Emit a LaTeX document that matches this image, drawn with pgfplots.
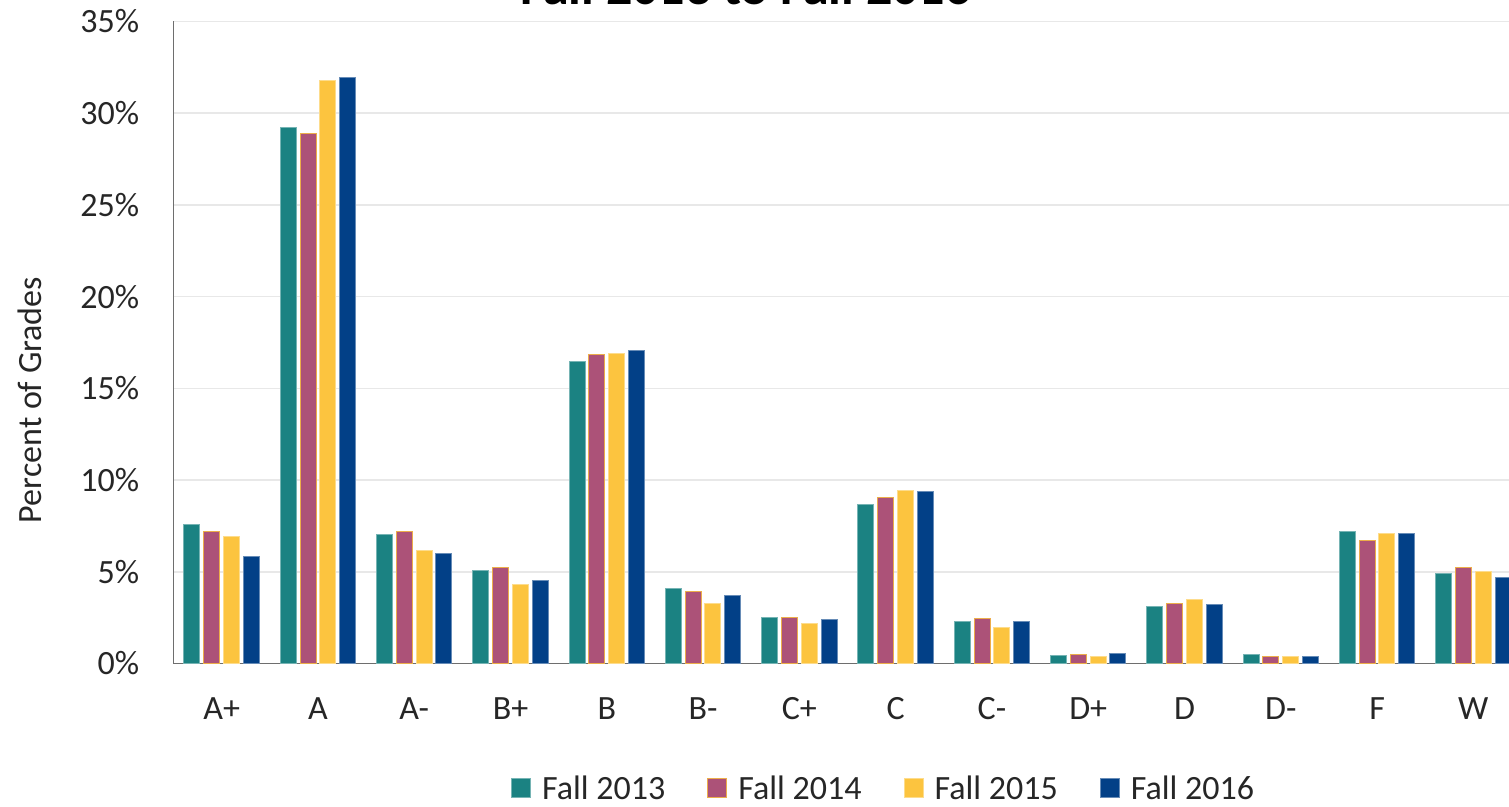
\documentclass[border=0pt]{standalone}
\usepackage{pgfplots}
\pgfplotsset{compat=1.18}
\usepackage{fontspec}
\setmainfont{Carlito}
\definecolor{cteal}{RGB}{27,130,130}
\definecolor{cpink}{RGB}{172,82,120}
\definecolor{cyellow}{RGB}{252,196,63}
\definecolor{cblue}{RGB}{2,64,135}
\definecolor{cgrid}{RGB}{232,232,232}
\definecolor{caxis}{RGB}{110,110,110}
\begin{document}
\begin{tikzpicture}
\useasboundingbox (-86.75pt,-71.75pt) rectangle (667.75pt,331.75pt);
\begin{axis}[
  at={(0pt,0pt)}, anchor=south west,
  scale only axis, width=674pt, height=321pt,
  xmin=-0.5, xmax=13.5, ymin=0, ymax=35,
  ybar=1.9pt, bar width=8pt,
  axis x line*=bottom, axis y line*=left,
  axis line style={caxis, line width=0.8pt},
  major tick length=0pt,
  ymajorgrids, grid style={cgrid, line width=0.8pt},
  xtick={0,...,13},
  xticklabels={A+,A,A-,B+,B,B-,C+,C,C-,D+,D,D-,F,W},
  ytick={0,5,10,15,20,25,30,35},
  yticklabels={0\%,5\%,10\%,15\%,20\%,25\%,30\%,35\%},
  tick label style={font=\fontsize{17}{20}\selectfont, text=black!85},
  xticklabel style={anchor=base, inner sep=0pt, yshift=-28.25pt},
  yticklabel style={anchor=east, inner sep=0pt, xshift=-17pt},
  ylabel={Percent of Grades},
  ylabel style={at={(axis description cs:-0.0976,0.4104)}, anchor=base, rotate=0, font=\fontsize{17}{20}\selectfont, text=black!85},
  every axis title shift=0pt,
  title={Fall 2013 to Fall 2016},
  title style={at={(axis description cs:0.4247,1.0267)}, anchor=base, font=\fontsize{26}{30}\selectfont\bfseries},
  legend columns=4,
  legend style={at={(axis description cs:0.2502,-0.2175)}, anchor=south west, draw=none, fill=none, inner sep=0pt,
    font=\fontsize{17}{20}\selectfont, text=black!85,
    nodes={inner sep=0pt},
    /tikz/every odd column/.append style={column sep=5.5pt},
    /tikz/every even column/.append style={column sep=21pt}},
  legend image code/.code={\fill[#1] (0pt,-4pt) rectangle (9.5pt,5.5pt);},
  clip=true,
]
\addplot[fill=cteal, draw=cteal!60!white, line width=0.5pt] coordinates {
 (0,7.59) (1,29.2) (2,7.05) (3,5.08) (4,16.49) (5,4.08) (6,2.53) (7,8.68) (8,2.31) (9,0.45) (10,3.11) (11,0.51) (12,7.17) (13,4.93)};
\addplot[fill=cpink, draw=cyellow!80!cpink, line width=0.5pt] coordinates {
 (0,7.17) (1,28.9) (2,7.17) (3,5.24) (4,16.82) (5,3.95) (6,2.49) (7,9.03) (8,2.46) (9,0.51) (10,3.28) (11,0.38) (12,6.72) (13,5.26)};
\addplot[fill=cyellow, draw=cyellow!60!white, line width=0.5pt] coordinates {
 (0,6.94) (1,31.8) (2,6.17) (3,4.33) (4,16.88) (5,3.29) (6,2.17) (7,9.45) (8,1.98) (9,0.38) (10,3.48) (11,0.38) (12,7.10) (13,5.01)};
\addplot[fill=cblue, draw=cblue!60!white, line width=0.5pt] coordinates {
 (0,5.84) (1,31.95) (2,5.99) (3,4.53) (4,17.04) (5,3.71) (6,2.42) (7,9.39) (8,2.28) (9,0.53) (10,3.24) (11,0.40) (12,7.10) (13,4.70)};
\legend{Fall 2013, Fall 2014, Fall 2015, Fall 2016}
\end{axis}
\end{tikzpicture}
\end{document}
